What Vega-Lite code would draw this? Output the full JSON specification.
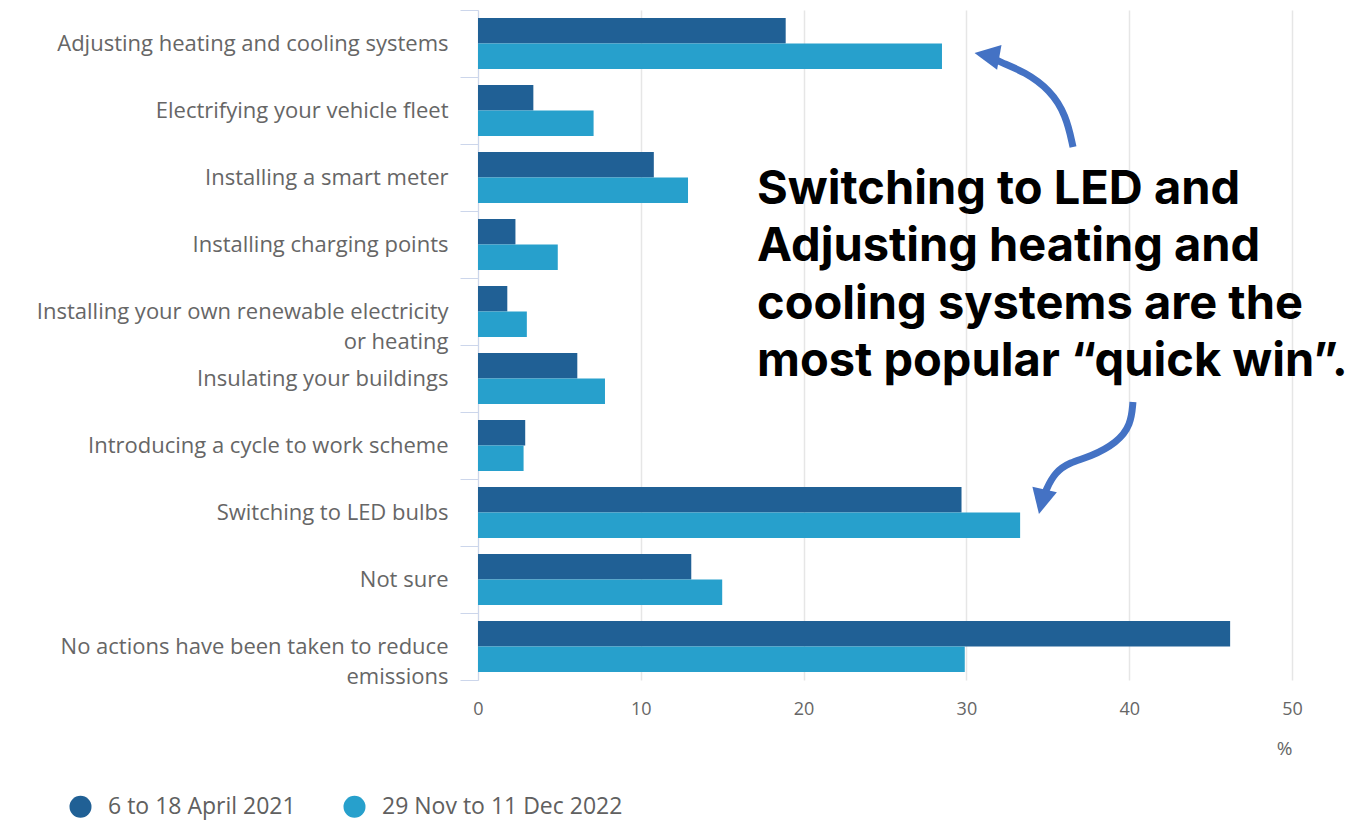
{
  "$schema": "https://vega.github.io/schema/vega-lite/v6.json",
  "width": 814,
  "height": 670,
  "autosize": {"type": "none"},
  "padding": {"left": 478, "top": 10, "right": 77, "bottom": 145},
  "background": "white",
  "config": {"view": {"stroke": null}, "font": "Open Sans"},
  "datasets": {
    "bars": [
      {"action": "Adjusting heating and cooling systems", "period": "6 to 18 April 2021", "value": 18.9},
      {"action": "Adjusting heating and cooling systems", "period": "29 Nov to 11 Dec 2022", "value": 28.5},
      {"action": "Electrifying your vehicle fleet", "period": "6 to 18 April 2021", "value": 3.4},
      {"action": "Electrifying your vehicle fleet", "period": "29 Nov to 11 Dec 2022", "value": 7.1},
      {"action": "Installing a smart meter", "period": "6 to 18 April 2021", "value": 10.8},
      {"action": "Installing a smart meter", "period": "29 Nov to 11 Dec 2022", "value": 12.9},
      {"action": "Installing charging points", "period": "6 to 18 April 2021", "value": 2.3},
      {"action": "Installing charging points", "period": "29 Nov to 11 Dec 2022", "value": 4.9},
      {"action": "Installing your own renewable electricity or heating", "period": "6 to 18 April 2021", "value": 1.8},
      {"action": "Installing your own renewable electricity or heating", "period": "29 Nov to 11 Dec 2022", "value": 3.0},
      {"action": "Insulating your buildings", "period": "6 to 18 April 2021", "value": 6.1},
      {"action": "Insulating your buildings", "period": "29 Nov to 11 Dec 2022", "value": 7.8},
      {"action": "Introducing a cycle to work scheme", "period": "6 to 18 April 2021", "value": 2.9},
      {"action": "Introducing a cycle to work scheme", "period": "29 Nov to 11 Dec 2022", "value": 2.8},
      {"action": "Switching to LED bulbs", "period": "6 to 18 April 2021", "value": 29.7},
      {"action": "Switching to LED bulbs", "period": "29 Nov to 11 Dec 2022", "value": 33.3},
      {"action": "Not sure", "period": "6 to 18 April 2021", "value": 13.1},
      {"action": "Not sure", "period": "29 Nov to 11 Dec 2022", "value": 15.0},
      {"action": "No actions have been taken to reduce emissions", "period": "6 to 18 April 2021", "value": 46.2},
      {"action": "No actions have been taken to reduce emissions", "period": "29 Nov to 11 Dec 2022", "value": 29.9}
    ],
    "arrows": [
      {"arrow": "a", "order": 1, "x": 36.55, "y": 2.045},
      {"arrow": "a", "order": 2, "x": 36.12, "y": 1.567},
      {"arrow": "a", "order": 3, "x": 35.14, "y": 1.194},
      {"arrow": "a", "order": 4, "x": 33.6, "y": 0.925},
      {"arrow": "a", "order": 5, "x": 32.06, "y": 0.776},
      {"arrow": "a", "order": 6, "x": 31.3, "y": 0.68},
      {"arrow": "b", "order": 1, "x": 40.23, "y": 5.85},
      {"arrow": "b", "order": 2, "x": 40.11, "y": 6.19},
      {"arrow": "b", "order": 3, "x": 39.25, "y": 6.46},
      {"arrow": "b", "order": 4, "x": 37.59, "y": 6.67},
      {"arrow": "b", "order": 5, "x": 36.36, "y": 6.75},
      {"arrow": "b", "order": 6, "x": 35.44, "y": 6.9},
      {"arrow": "b", "order": 7, "x": 34.89, "y": 7.16},
      {"arrow": "b", "order": 8, "x": 34.64, "y": 7.33}
    ],
    "heads": [
      {"arrow": "a", "x": 31.3, "y": 0.676, "angle": 280},
      {"arrow": "b", "x": 34.64, "y": 7.33, "angle": 193}
    ],
    "note": [
      {"x": 17.14, "y": 2.68, "text": "Switching to LED and|Adjusting heating and|cooling systems are the|most popular “quick win”."}
    ]
  },
  "layer": [
    {
      "data": {"name": "bars"},
      "mark": {"type": "bar"},
      "encoding": {
        "y": {
          "field": "action", "type": "nominal", "sort": null,
          "scale": {"paddingInner": 0, "paddingOuter": 0},
          "axis": {
            "title": null,
            "tickBand": "extent",
            "tickSize": 18,
            "tickColor": "#ccd6eb",
            "domainColor": "#ccd6eb",
            "grid": false,
            "labelFont": "Open Sans",
            "labelFontSize": 22,
            "labelColor": "#666666",
            "labelLimit": 500,
            "labelLineHeight": 30,
            "labelPadding": 12,
            "labelExpr": "datum.value == 'Installing your own renewable electricity or heating' ? ['Installing your own renewable electricity', 'or heating'] : datum.value == 'No actions have been taken to reduce emissions' ? ['No actions have been taken to reduce', 'emissions'] : datum.label"
          }
        },
        "yOffset": {
          "field": "period", "type": "nominal",
          "sort": ["6 to 18 April 2021", "29 Nov to 11 Dec 2022"],
          "scale": {"paddingInner": 0, "paddingOuter": 0.314}
        },
        "x": {
          "field": "value", "type": "quantitative",
          "scale": {"domain": [0, 50], "nice": false},
          "axis": {
            "title": "%",
            "titleAnchor": "end",
            "titleFont": "Open Sans",
            "titleFontWeight": "normal",
            "titleFontSize": 19,
            "titleColor": "#666666",
            "titlePadding": 21,
            "values": [0, 10, 20, 30, 40, 50],
            "ticks": false,
            "domain": false,
            "grid": true,
            "gridColor": "#e6e6e6",
            "gridWidth": 1.5,
            "labelFont": "Open Sans",
            "labelFontSize": 18,
            "labelColor": "#666666",
            "labelPadding": 20,
            "labelFlush": false
          }
        },
        "color": {
          "field": "period", "type": "nominal",
          "scale": {"domain": ["6 to 18 April 2021", "29 Nov to 11 Dec 2022"], "range": ["#206095", "#27a0cc"]},
          "legend": {
            "title": null,
            "orient": "none",
            "direction": "horizontal",
            "legendX": -409,
            "legendY": 785,
            "symbolType": "circle",
            "symbolSize": 484,
            "symbolStrokeWidth": 0,
            "labelFont": "Open Sans",
            "labelFontSize": 23,
            "labelColor": "#606060",
            "labelOffset": 16,
            "columnPadding": 47,
            "labelLimit": 400
          }
        }
      }
    },
    {
      "data": {"name": "arrows"},
      "mark": {"type": "line", "interpolate": "basis", "strokeWidth": 7, "color": "#4472c4", "strokeCap": "butt"},
      "encoding": {
        "x": {"field": "x", "type": "quantitative", "scale": {"domain": [0, 50], "nice": false}, "axis": null},
        "y": {"field": "y", "type": "quantitative", "scale": {"domain": [0, 10], "reverse": true, "nice": false}, "axis": null},
        "detail": {"field": "arrow"},
        "order": {"field": "order", "type": "quantitative"}
      }
    },
    {
      "data": {"name": "heads"},
      "mark": {"type": "point", "shape": "M0,-1L0.95,0.9L-0.95,0.9Z", "filled": true, "opacity": 1, "color": "#4472c4", "size": 700, "strokeWidth": 0},
      "encoding": {
        "x": {"field": "x", "type": "quantitative", "scale": {"domain": [0, 50], "nice": false}, "axis": null},
        "y": {"field": "y", "type": "quantitative", "scale": {"domain": [0, 10], "reverse": true, "nice": false}, "axis": null},
        "angle": {"field": "angle", "type": "quantitative", "scale": null}
      }
    },
    {
      "data": {"name": "note"},
      "mark": {"type": "text", "align": "left", "baseline": "middle", "lineBreak": "|", "lineHeight": 57.5, "font": "Inter", "fontWeight": "bold", "fontSize": 47, "color": "#000000"},
      "encoding": {
        "x": {"field": "x", "type": "quantitative", "scale": {"domain": [0, 50], "nice": false}, "axis": null},
        "y": {"field": "y", "type": "quantitative", "scale": {"domain": [0, 10], "reverse": true, "nice": false}, "axis": null},
        "text": {"field": "text", "type": "nominal"}
      }
    }
  ],
  "resolve": {"scale": {"y": "independent"}, "axis": {"x": "independent"}}
}
